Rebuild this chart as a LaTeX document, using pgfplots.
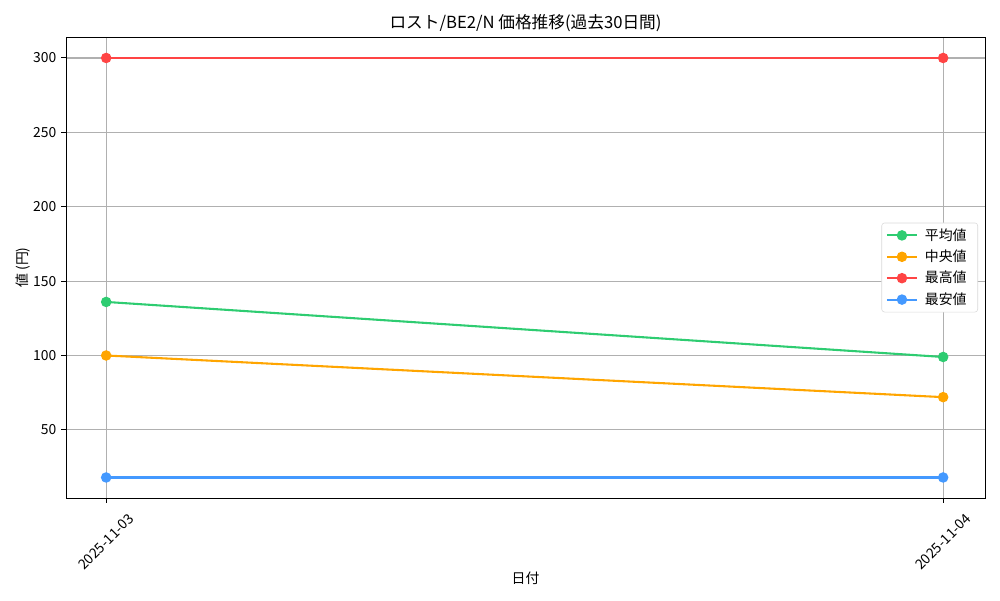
\documentclass[border=0pt]{standalone}
\usepackage{fontspec}
\setmainfont{Noto Sans CJK JP}
\usepackage{pgfplots}
\pgfplotsset{compat=1.18}

\definecolor{cavg}{HTML}{2ECC71}
\definecolor{cmed}{HTML}{FFA500}
\definecolor{cmax}{HTML}{FF4444}
\definecolor{cmin}{HTML}{4499FF}
\definecolor{cgrid}{HTML}{B0B0B0}

\begin{document}
\begin{tikzpicture}
\begin{axis}[
    at={(0,0)}, anchor=south west,
    scale only axis,
    width=661.68pt, height=331.92pt,
    xmin=-0.048, xmax=1.050,
    ymin=4.2, ymax=314.1,
    xtick={0,1},
    xticklabels={2025-11-03,2025-11-04},
    ytick={50,100,...,300},
    tick pos=left, tick align=outside,
    major tick length=3.5pt,
    every tick/.style={black, line width=0.7pt},
    axis line style={line width=0.6pt},
    grid=major,
    grid style={cgrid, line width=0.8pt},
    font=\fontsize{10}{12}\selectfont,
    /pgf/number format/assume math mode=true,
    xticklabel style={yshift=-28pt, rotate=45, anchor=center},
    title={ロスト/BE2/N 価格推移(過去30日間)},
    title style={at={(axis description cs:0.5,1.012)}, anchor=center,
        font=\fontsize{12}{14}\selectfont},
    xlabel={日付},
    xlabel style={at={(axis description cs:0.5,-0.1735)}, anchor=center},
    ylabel={値 (円)},
    ylabel style={at={(axis description cs:-0.0470,0.5)}, anchor=center},
    legend style={at={(axis description cs:0.9924,0.5)}, anchor=east,
        draw=black!15, rounded corners=2pt, fill=white,
        font=\fontsize{10}{12}\selectfont, row sep=1.5pt,
        nodes={inner xsep=5pt}},
    legend cell align=left,
    legend image code/.code={
        \draw[mark repeat=2, mark phase=2]
        plot coordinates {(0cm,0cm) (0.38cm,0cm) (0.76cm,0cm)};
    },
    every axis plot/.append style={line width=1.5pt, mark=*, mark size=3pt},
]
\addplot[cavg, mark options={fill=cavg, draw=cavg}] coordinates {(0,136) (1,99)};
\addlegendentry{平均値}
\addplot[cmed, mark options={fill=cmed, draw=cmed}] coordinates {(0,100) (1,72)};
\addlegendentry{中央値}
\addplot[cmax, mark options={fill=cmax, draw=cmax}] coordinates {(0,300) (1,300)};
\addlegendentry{最高値}
\addplot[cmin, mark options={fill=cmin, draw=cmin}] coordinates {(0,18) (1,18)};
\addlegendentry{最安値}
\end{axis}
\path[use as bounding box] (-47.52pt,-73.44pt) rectangle (672.48pt,358.56pt);
\end{tikzpicture}
\end{document}
